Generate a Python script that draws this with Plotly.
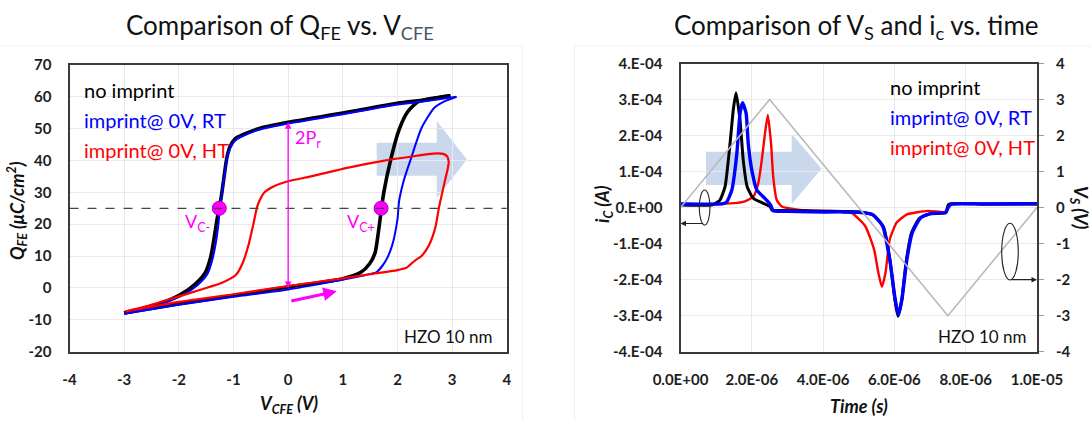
import plotly.graph_objects as go

W, H = 1091, 421

# ---------------- Q_FE vs V_CFE hysteresis loops ----------------
# no imprint: up-sweep (-3 V -> +3 V) and down-sweep (+3 V -> -3 V)
V_UP_NO = [-3.0, -2.0, -1.0, 0.0, 1.0, 1.33, 1.49, 1.59, 1.65, 1.71, 1.75, 1.87, 2.03, 2.19, 2.38, 2.97]
Q_UP_NO = [-7.9, -5.0, -2.4, 0.3, 2.9, 4.9, 7.6, 11.0, 17.4, 25.3, 30.0, 39.8, 49.7, 55.4, 58.5, 60.3]
V_DN_NO = [2.97, 2.5, 2.0, 1.0, 0.0, -0.5, -0.83, -0.97, -1.06, -1.12, -1.18, -1.22, -1.26,
           -1.30, -1.36, -1.42, -1.52, -1.71, -1.97, -2.41, -3.0]
Q_DN_NO = [60.3, 59.0, 58.0, 54.9, 52.0, 50.2, 48.1, 46.8, 44.5, 41.0, 34.0, 29.0, 25.0,
           21.6, 15.0, 9.5, 4.7, 1.05, -2.1, -5.3, -7.9]

# imprint @ 0 V, room temperature
V_UP_RT = [-3.0, -2.0, -1.0, 0.0, 1.0, 1.4, 1.62, 1.78, 1.9, 2.0, 2.03, 2.12, 2.25, 2.44, 2.67, 2.85, 3.08]
Q_UP_RT = [-8.1, -5.3, -2.8, -0.5, 2.6, 4.0, 5.0, 8.4, 13.2, 21.6, 27.3, 34.0, 40.8, 50.2, 56.5, 58.5, 60.0]
V_DN_RT = [3.08, 2.5, 2.0, 1.0, 0.0, -0.5, -0.83, -0.97, -1.06, -1.12, -1.18, -1.22, -1.25,
           -1.27, -1.32, -1.38, -1.47, -1.65, -1.92, -2.38, -3.0]
Q_DN_RT = [60.0, 58.6, 57.6, 54.5, 51.6, 49.8, 47.7, 46.3, 44.0, 40.5, 33.5, 28.5, 25.0,
           21.0, 14.5, 9.3, 4.6, 1.0, -2.2, -5.5, -8.1]

# imprint @ 0 V, high temperature
V_UP_HT = [-2.98, -2.0, -1.0, 0.0, 1.0, 1.5, 2.0, 2.16, 2.32, 2.44, 2.57, 2.65, 2.70, 2.76, 2.82, 2.88, 2.92, 2.94]
Q_UP_HT = [-7.4, -4.4, -2.0, 0.6, 3.0, 4.3, 5.6, 6.3, 8.6, 10.0, 13.2, 16.5, 19.5, 25.3, 30.0, 34.5, 37.5, 39.5]
V_DN_HT = [2.94, 2.91, 2.84, 2.65, 2.35, 1.71, 1.08, 0.44, 0.0, -0.25, -0.44, -0.51, -0.57,
           -0.63, -0.73, -0.83, -0.95, -1.21, -1.59, -2.1, -2.6, -2.98]
Q_DN_HT = [39.5, 41.3, 42.1, 42.2, 41.5, 39.8, 37.7, 35.1, 33.5, 32.0, 29.9, 27.9, 25.3,
           20.5, 13.2, 7.9, 4.2, 1.6, -0.5, -3.2, -5.8, -7.4]

# coercive voltages at the mid-charge level
VC_POINTS = [-1.26, 1.70]
QC_LEVEL = [25, 25]

# ---------------- V_S and i_c vs time ----------------
VS_T = [0.0, 2.5e-6, 7.5e-6, 1.0e-5]
VS_V = [0.0, 3.0, -3.0, 0.0]

T_NO = [0.0, 0.9e-6, 1.1e-6, 1.25e-6, 1.39e-6, 1.48e-6, 1.557e-6, 1.67e-6, 1.76e-6, 1.87e-6,
        2.04e-6, 2.32e-6, 2.51e-6, 2.57e-6, 3.0e-6, 4.0e-6, 5.0e-6, 5.4e-6, 5.7e-6, 5.88e-6,
        6.02e-6, 6.1e-6, 6.2e-6, 6.33e-6, 6.48e-6, 6.7e-6, 7.0e-6, 7.45e-6, 7.52e-6, 8.5e-6, 1.0e-5]
I_NO = [0.07e-4, 0.08e-4, 0.2e-4, 0.58e-4, 1.78e-4, 2.71e-4, 3.19e-4, 2.43e-4, 1.32e-4, 0.58e-4,
        0.26e-4, 0.12e-4, 0.03e-4, -0.07e-4, -0.08e-4, -0.1e-4, -0.12e-4, -0.2e-4, -0.55e-4, -1.5e-4,
        -2.6e-4, -3.02e-4, -2.6e-4, -1.5e-4, -0.7e-4, -0.3e-4, -0.17e-4, -0.14e-4, 0.09e-4, 0.1e-4, 0.1e-4]

T_RT = [0.0, 1.2e-6, 1.30e-6, 1.44e-6, 1.58e-6, 1.67e-6, 1.74e-6, 1.84e-6, 1.90e-6, 2.0e-6,
        2.14e-6, 2.32e-6, 2.46e-6, 2.54e-6, 2.60e-6, 3.0e-6, 3.63e-6, 4.5e-6, 5.0e-6, 5.38e-6,
        5.67e-6, 5.87e-6, 6.01e-6, 6.11e-6, 6.21e-6, 6.35e-6, 6.5e-6, 6.74e-6, 7.04e-6, 7.43e-6,
        7.51e-6, 7.58e-6, 8.5e-6, 1.0e-5]
I_RT = [0.1e-4, 0.11e-4, 0.16e-4, 0.49e-4, 1.5e-4, 2.62e-4, 2.91e-4, 2.62e-4, 1.78e-4, 1.04e-4,
        0.49e-4, 0.3e-4, 0.16e-4, 0.05e-4, -0.09e-4, -0.1e-4, -0.12e-4, -0.12e-4, -0.13e-4, -0.19e-4,
        -0.51e-4, -1.44e-4, -2.47e-4, -2.98e-4, -2.56e-4, -1.44e-4, -0.70e-4, -0.28e-4, -0.16e-4, -0.14e-4,
        0.0, 0.09e-4, 0.1e-4, 0.11e-4]

T_HT = [0.0, 1.0e-6, 1.76e-6, 2.04e-6, 2.18e-6, 2.28e-6, 2.37e-6, 2.45e-6, 2.54e-6, 2.60e-6,
        2.70e-6, 2.84e-6, 3.5e-6, 4.5e-6, 4.79e-6, 5.18e-6, 5.43e-6, 5.55e-6, 5.65e-6, 5.75e-6,
        5.87e-6, 6.06e-6, 6.35e-6, 6.94e-6, 7.45e-6, 7.52e-6, 8.5e-6, 1.0e-5]
I_HT = [0.1e-4, 0.1e-4, 0.16e-4, 0.3e-4, 0.67e-4, 1.32e-4, 2.06e-4, 2.57e-4, 1.78e-4, 0.86e-4,
        0.21e-4, 0.03e-4, -0.08e-4, -0.1e-4, -0.14e-4, -0.51e-4, -1.16e-4, -1.81e-4, -2.2e-4, -1.81e-4,
        -0.88e-4, -0.42e-4, -0.19e-4, -0.09e-4, -0.12e-4, 0.09e-4, 0.1e-4, 0.1e-4]

# ---------------- tick labels ----------------
QV_XTICKS = [-4, -3, -2, -1, 0, 1, 2, 3, 4]
QV_YTICKS = [-20, -10, 0, 10, 20, 30, 40, 50, 60, 70]
T_TICKS = [0.0, 2e-6, 4e-6, 6e-6, 8e-6, 1e-5]
T_TICKTEXT = ["0.0E+00", "2.0E-06", "4.0E-06", "6.0E-06", "8.0E-06", "1.0E-05"]
I_TICKS = [-4e-4, -3e-4, -2e-4, -1e-4, 0.0, 1e-4, 2e-4, 3e-4, 4e-4]
I_TICKTEXT = ["-4.E-04", "-3.E-04", "-2.E-04", "-1.E-04", "0.E+00", "1.E-04", "2.E-04", "3.E-04", "4.E-04"]
VS_TICKS = [-4, -3, -2, -1, 0, 1, 2, 3, 4]

SERIES_NAMES = ["no imprint", "imprint@ 0V, RT", "imprint@ 0V, HT"]
SERIES_COLORS = ["#000000", "#0000ff", "#ff0000"]

FONT = "Lato"
AXIS_COLOR = "#3a3a3a"
GRID_COLOR = "#e9e9e9"
MAGENTA = "#ff00ff"


def px(x):
    return x / W


def py(y):
    return 1 - y / H


fig = go.Figure()

# hysteresis loops (left panel)
loops = [
    (V_UP_NO, Q_UP_NO, V_DN_NO, Q_DN_NO, SERIES_COLORS[0], 3.6),
    (V_UP_RT, Q_UP_RT, V_DN_RT, Q_DN_RT, SERIES_COLORS[1], 2.0),
    (V_UP_HT, Q_UP_HT, V_DN_HT, Q_DN_HT, SERIES_COLORS[2], 2.2),
]
for name, (vu, qu, vd, qd, col, lw) in zip(SERIES_NAMES, loops):
    for vx, qy in ((vu, qu), (vd, qd)):
        fig.add_trace(go.Scatter(
            x=vx, y=qy, mode="lines", name=name, showlegend=False,
            line=dict(color=col, width=lw, shape="spline", smoothing=0.6),
            xaxis="x", yaxis="y", hoverinfo="skip"))

fig.add_trace(go.Scatter(
    x=VC_POINTS, y=QC_LEVEL, mode="markers", showlegend=False,
    marker=dict(color=MAGENTA, size=14, line=dict(color="#b000b0", width=1)),
    xaxis="x", yaxis="y", hoverinfo="skip"))

# source voltage ramp and switching currents (right panel)
fig.add_trace(go.Scatter(
    x=VS_T, y=VS_V, mode="lines", showlegend=False,
    line=dict(color="#b9b9b9", width=1.6), xaxis="x2", yaxis="y3", hoverinfo="skip"))

current_traces = [
    (T_HT, I_HT, SERIES_NAMES[2], SERIES_COLORS[2], 2.4),
    (T_NO, I_NO, SERIES_NAMES[0], SERIES_COLORS[0], 3.0),
    (T_RT, I_RT, SERIES_NAMES[1], SERIES_COLORS[1], 3.4),
]
for tx, iy, name, col, lw in current_traces:
    fig.add_trace(go.Scatter(
        x=tx, y=iy, mode="lines", name=name, showlegend=False,
        line=dict(color=col, width=lw, shape="spline", smoothing=0.5),
        xaxis="x2", yaxis="y2", hoverinfo="skip"))

tick_font = dict(family=FONT, size=15, color="#1e1e1e")
axis_common = dict(
    showline=True, linecolor=AXIS_COLOR, linewidth=2, mirror=True,
    showgrid=True, gridcolor=GRID_COLOR, gridwidth=1, zeroline=False,
    ticks="", tickfont=tick_font, fixedrange=True, automargin=False,
)

fig.update_layout(
    width=W, height=H, autosize=False,
    margin=dict(l=0, r=0, t=0, b=0, autoexpand=False),
    paper_bgcolor="white", plot_bgcolor="white",
    font=dict(family=FONT),
    xaxis=dict(axis_common, domain=[px(69.5), px(506.8)], range=[-4, 4], anchor="y",
               tickvals=QV_XTICKS, ticktext=[f"<b>{v}</b>" for v in QV_XTICKS], ticklabelstandoff=13),
    yaxis=dict(axis_common, domain=[py(351.6), py(65)], range=[-20, 70], anchor="x",
               tickvals=QV_YTICKS, ticktext=[f"<b>{v}</b>" for v in QV_YTICKS], ticklabelstandoff=13),
    xaxis2=dict(axis_common, domain=[px(680.5), px(1037)], range=[0, 1e-5], anchor="y2",
                tickvals=T_TICKS, ticktext=[f"<b>{t}</b>" for t in T_TICKTEXT], ticklabelstandoff=13),
    yaxis2=dict(axis_common, domain=[py(351.7), py(63.5)], range=[-4e-4, 4e-4], anchor="x2",
                tickvals=I_TICKS, ticktext=[f"<b>{t}</b>" for t in I_TICKTEXT], ticklabelstandoff=13),
    yaxis3=dict(showline=True, linecolor=AXIS_COLOR, linewidth=2, showgrid=False, zeroline=False,
                overlaying="y2", anchor="x2", side="right", range=[-4, 4], fixedrange=True,
                automargin=False,
                tickvals=VS_TICKS, ticktext=[f"<b>{v}</b>" for v in VS_TICKS],
                tickfont=tick_font, ticks="outside", ticklen=5, tickcolor="#9a9a9a",
                ticklabelstandoff=9),
)

shapes = []
# mid-charge reference level
shapes.append(dict(type="line", xref="x", yref="y", x0=-4, x1=4, y0=25, y1=25,
                   line=dict(color="#444444", width=1.3, dash="dash"), layer="above"))
# shift arrows (translucent)
shapes.append(dict(type="path", xref="x", yref="y", layer="below",
                   path="M 1.62,35.2 L 2.72,35.2 L 2.72,28.2 L 3.27,40.3 L 2.72,52.4 L 2.72,45.6 L 1.62,45.6 Z",
                   fillcolor="rgba(150,178,222,0.5)", line=dict(width=0)))
shapes.append(dict(type="path", xref="x2", yref="y2", layer="below",
                   path="M 0.715e-6,0.63e-4 L 3.12e-6,0.63e-4 L 3.12e-6,0.1e-4 L 3.96e-6,1.08e-4 "
                        "L 3.12e-6,2.04e-4 L 3.12e-6,1.55e-4 L 0.715e-6,1.55e-4 Z",
                   fillcolor="rgba(150,178,222,0.5)", line=dict(width=0)))
# axis-assignment ellipses
shapes.append(dict(type="circle", xref="x2", yref="y2", x0=0.527e-6, x1=0.827e-6, y0=-0.483e-4, y1=0.488e-4,
                   line=dict(color="#222222", width=1.1)))
shapes.append(dict(type="circle", xref="x2", yref="y3", x0=9.01e-6, x1=9.475e-6, y0=-2.01, y1=-0.436,
                   line=dict(color="#222222", width=1.1)))
# faint chart-area frames
shapes.append(dict(type="rect", xref="paper", yref="paper", x0=px(-2), x1=px(522.6), y0=py(423), y1=py(46),
                   line=dict(color="#f0f0f0", width=1)))
shapes.append(dict(type="rect", xref="paper", yref="paper", x0=px(574.6), x1=px(1093), y0=py(423), y1=py(46),
                   line=dict(color="#f0f0f0", width=1)))
fig.update_layout(shapes=shapes)

ann = []
# titles
ann.append(dict(text="Comparison of Q<sub>FE</sub> vs. V<sub><span style='color:#44546a'>CFE</span></sub>",
                xref="paper", yref="paper", x=px(279.5), y=py(27), xanchor="center", yanchor="middle",
                showarrow=False, font=dict(family=FONT, size=26, color="#111111")))
ann.append(dict(text="Comparison of V<sub>S</sub> and i<sub>c</sub> vs. time",
                xref="paper", yref="paper", x=px(856.5), y=py(27), xanchor="center", yanchor="middle",
                showarrow=False, font=dict(family=FONT, size=26, color="#111111")))
# axis titles
title_font = dict(family=FONT, size=18, color="#111111")
ann.append(dict(text="<b><i>V<sub>CFE</sub> (V)</i></b>", xref="paper", yref="paper",
                x=px(289), y=py(404), xanchor="center", yanchor="middle", showarrow=False, font=title_font))
ann.append(dict(text="<b><i>Q<sub>FE</sub> (μC/cm<sup>2</sup>)</i></b>", xref="paper", yref="paper",
                x=px(17), y=py(211), xanchor="center", yanchor="middle", showarrow=False,
                textangle=-90, font=title_font))
ann.append(dict(text="<b><i>Time (s)</i></b>", xref="paper", yref="paper",
                x=px(859), y=py(406), xanchor="center", yanchor="middle", showarrow=False, font=title_font))
ann.append(dict(text="<b><i>i<sub>C</sub> (A)</i></b>", xref="paper", yref="paper",
                x=px(603), y=py(204), xanchor="center", yanchor="middle", showarrow=False,
                textangle=-90, font=title_font))
ann.append(dict(text="<b><i>V<sub>S</sub> (V)</i></b>", xref="paper", yref="paper",
                x=px(1080), y=py(208), xanchor="center", yanchor="middle", showarrow=False,
                textangle=90, font=title_font))

# series labels
label_font = 20
for name, col, qy in zip(SERIES_NAMES, SERIES_COLORS, [62.2, 52.8, 43.4]):
    ann.append(dict(text=name, xref="x", yref="y", x=-3.77, y=qy, xanchor="left", yanchor="middle",
                    showarrow=False, font=dict(family=FONT, size=label_font, color=col)))
for name, col, iy in zip(SERIES_NAMES, SERIES_COLORS, [3.36e-4, 2.52e-4, 1.67e-4]):
    ann.append(dict(text=name, xref="x2", yref="y2", x=5.82e-6, y=iy, xanchor="left", yanchor="middle",
                    showarrow=False, font=dict(family=FONT, size=label_font, color=col)))

# sample labels
ann.append(dict(text="HZO 10 nm", xref="x", yref="y", x=3.76, y=-15.3, xanchor="right", yanchor="middle",
                showarrow=False, font=dict(family=FONT, size=17, color="#111111")))
ann.append(dict(text="HZO 10 nm", xref="x2", yref="y2", x=9.75e-6, y=-3.58e-4, xanchor="right", yanchor="middle",
                showarrow=False, font=dict(family=FONT, size=17, color="#111111")))

# coercive voltage and remanent polarization labels
mag_font = dict(family=FONT, size=18, color=MAGENTA)
ann.append(dict(text="V<sub>C-</sub>", xref="x", yref="y", x=-1.66, y=20.5, xanchor="center", yanchor="middle",
                showarrow=False, font=mag_font))
ann.append(dict(text="V<sub>C+</sub>", xref="x", yref="y", x=1.33, y=20.5, xanchor="center", yanchor="middle",
                showarrow=False, font=mag_font))
ann.append(dict(text="2P<sub>r</sub>", xref="x", yref="y", x=0.08, y=47.0, xanchor="left", yanchor="middle",
                showarrow=False, font=mag_font))
# 2Pr span arrow
ann.append(dict(x=0, y=52.0, ax=0, ay=-0.5, xref="x", yref="y", axref="x", ayref="y", text="",
                showarrow=True, arrowhead=2, startarrowhead=2, arrowside="end+start", arrowsize=1,
                startarrowsize=1, arrowwidth=1.3, arrowcolor=MAGENTA))
# sweep direction arrow
ann.append(dict(x=0.89, y=-1.05, ax=0.03, ay=-4.2, xref="x", yref="y", axref="x", ayref="y", text="",
                showarrow=True, arrowhead=2, arrowsize=0.9, arrowwidth=3, arrowcolor=MAGENTA))
# axis pointers from ellipses
ann.append(dict(x=0, y=-0.44e-4, ax=0.677e-6, ay=-0.44e-4, xref="x2", yref="y2", axref="x2", ayref="y2",
                text="", showarrow=True, arrowhead=2, arrowsize=1, arrowwidth=1.1, arrowcolor="#222222"))
ann.append(dict(x=1.0e-5, y=-2.0, ax=9.24e-6, ay=-2.0, xref="x2", yref="y3", axref="x2", ayref="y3",
                text="", showarrow=True, arrowhead=2, arrowsize=1, arrowwidth=1.1, arrowcolor="#222222"))

fig.update_layout(annotations=ann)

fig.write_html("out.html")
